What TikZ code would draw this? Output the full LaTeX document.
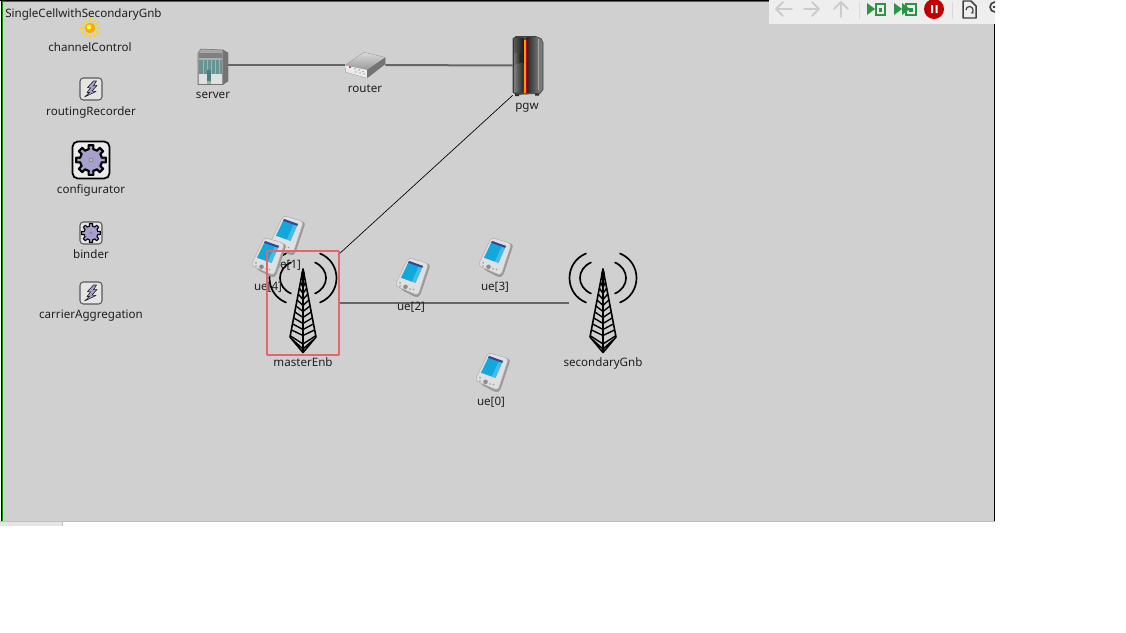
\documentclass[tikz,border=0pt]{standalone}
\usepackage{fontspec}
\setmainfont{Noto Sans}
\usetikzlibrary{arrows.meta}
\definecolor{canvas}{HTML}{D0D0D0}
\definecolor{barbg}{HTML}{EEEEEE}
\definecolor{linkgrey}{HTML}{666666}
\definecolor{selred}{HTML}{E8646A}
\definecolor{gearblue}{HTML}{A6A0CC}
\definecolor{okgreen}{HTML}{2E9444}
\definecolor{navgrey}{HTML}{CCCCCC}
\definecolor{pdascreen}{HTML}{12A8DC}
\tikzset{
  lbl/.style={font=\fontsize{8.7}{10}\selectfont, anchor=base, inner sep=0pt, text=black!88},
  wire/.style={draw=linkgrey, line width=1.5pt},
  thinwire/.style={draw=black, line width=0.5pt},
  pdaicon/.pic={
    \fill[black!40, rounded corners=2] (-2,-19) -- (18.5,-12.5) -- (8,19) -- (4,20.5) -- (-12,12) -- cycle;
    \fill[black!12, draw=black!30, line width=.4pt, rounded corners=2.5] (-3.7,-19.5) -- (16.5,-13.5) -- (6,18.5) -- (-17,8.5) -- cycle;
    \fill[pdascreen] (-3,-16) -- (11,-11) -- (3.5,6) -- (-11,.7) -- cycle;
    \fill[blue!40!black!75] (-3,-16) -- (11,-11) -- (10.2,-9.2) -- (-3.8,-14.2) -- cycle;
    \fill[white, opacity=.22] (6.5,-10) -- (10.2,-9.2) -- (3.5,6) -- (-.2,4.7) -- cycle;
    \fill[black!45] (-6.5,9.8) circle (2.3);
    \fill[black!40] (-12,5.8) circle (.95) (-12,9) circle (.95) (-2,12) circle (.95) (1.5,12.5) circle (.95) (-7,13.7) circle (.95);
  },
  towericon/.pic={
    \draw[line width=1.25pt, line cap=round] (17,-24.5) .. controls (39,-15.5) and (39,15.5) .. (17,24.5);
    \draw[line width=1.25pt, line cap=round] (-17,-24.5) .. controls (-39,-15.5) and (-39,15.5) .. (-17,24.5);
    \draw[line width=1.25pt, line cap=round] (12,-15.5) .. controls (26.7,-9) and (26.7,9) .. (12,15.5);
    \draw[line width=1.25pt, line cap=round] (-12,-15.5) .. controls (-26.7,-9) and (-26.7,9) .. (-12,15.5);
    \fill (0,-10) -- (2,-4) -- (-2,-4) -- cycle;
    \draw[line width=1.2pt, line join=round] (0,-9) -- (-13,59) -- (0,74.5) -- (13,59) -- cycle;
    \draw[line width=1.1pt] (0,-8) -- (0,75);
    \foreach \yy/\hw in {4/2.6,10/3.7,16/4.8,22/5.9,28/7,34/8.1,40/9.2,46/10.3,52/11.4}{
      \draw[line width=1.05pt] (-\hw,\yy) -- (0,\yy+5.5) -- (\hw,\yy);
    }
    \draw[line width=1.05pt] (-12.4,58) -- (0,66) -- (12.4,58);
    \draw[line width=1.05pt] (-10,62) -- (0,71) -- (10,62);
  },
  gearicon/.pic={
    \fill[gearblue, draw=black, line width=1.6pt, line join=round]
      (-12:.74) \foreach \a in {0,45,...,315}{
        -- (\a-12:.74) -- (\a-9:1) -- (\a+9:1) -- (\a+12:.74) } -- cycle;
    \fill[black!45] (0,0) circle (.16);
    \fill[black!15] (0,0) circle (.08);
  },
  smallgearicon/.pic={
    \fill[gearblue, draw=black, line width=.8pt, line join=round]
      (-12:.74) \foreach \a in {0,45,...,315}{
        -- (\a-12:.74) -- (\a-9:1) -- (\a+9:1) -- (\a+12:.74) } -- cycle;
    \fill[black!45] (0,0) circle (.16);
  },
  bolticon/.pic={
    \fill[gearblue, draw=black!85, line width=.45pt, line join=round]
      (2.5,-8) -- (-3.5,-1.5) -- (-.5,-1) -- (-4,3.5) -- (-1.5,3.5) -- (-6.5,8) -- (5,2.5) -- (1,2) -- (6,-3.5) -- (2.5,-3.2) -- (5.5,-8) -- cycle;
  },
  sunicon/.pic={
    \foreach \a in {0,30,...,330}{
      \draw[yellow!75!orange, line width=1pt] (\a:6.5) -- (\a:10);
    }
    \fill[orange!65!yellow] (0,0) circle (5.3);
    \fill[yellow!70!white] (-1,-1) circle (2.4);
  },
  servericon/.pic={
    \fill[black!55, draw=black!60, line width=.3pt] (10,-16) -- (15,-13) -- (15,15) -- (10,18.5) -- cycle;
    \fill[black!35, draw=black!55, line width=.4pt] (-15,-13) -- (-12,-17) -- (10,-16) -- (10,18.5) -- (-15,18.5) -- cycle;
    \fill[black!50] (-14,-13) rectangle (9,-8);
    \fill[black!32] (-14,-8) rectangle (9,-6.5);
    \fill[teal!40!gray!85] (-14,-6.5) rectangle (9,10);
    \foreach \xx in {-10,-6,-2,2,6}{ \draw[teal!55!black!40, line width=.5pt] (\xx,-6.5) -- (\xx,10); }
    \fill[black!12] (-14,8) rectangle (-6,17.5);
    \fill[black!12] (-2,8) rectangle (9,17.5);
    \fill[teal!55!black!70] (-6,4) rectangle (-2,15);
    \fill[black!55] (-14,17.5) rectangle (10,18.5);
  },
  routericon/.pic={
    \fill[black!30, draw=black!50, line width=.4pt, line join=round] (-20,.5) -- (-1,-12.5) -- (20,-7.5) -- (20,-1) -- (2,13) -- (-19,7) -- cycle;
    \shade[top color=black!15, bottom color=black!40] (-20,.5) -- (-1,-12.5) -- (20,-7.5) -- (2,5) -- cycle;
    \fill[black!8] (-20,.5) -- (2,5) -- (2,13) -- (-19,7) -- cycle;
    \fill[black!55] (2,5) -- (20,-7.5) -- (20,-1) -- (2,13) -- cycle;
    \fill[red!85!black] (-15,2.2) circle (1);
    \foreach \xx/\yy in {-10/4,-6/5,-2/6.5,-9/7,-5/8,-1/9}{\fill[black!60] (\xx,\yy) circle (.7);}
  },
  pgwicon/.pic={
    \fill[black!85] (-13,28) rectangle (-9,30.5) (7,27.5) rectangle (11,30);
    \shade[left color=black!80, right color=black!50, draw=black!75, line width=.4pt, line join=round] (-15,-27) -- (-12,-29) -- (8,-29) -- (13,-27) -- (15,-23) -- (15,24) -- (12,28) -- (-12,29) -- (-15,27) -- cycle;
    \shade[left color=black!65, right color=black!90] (-14,-27) rectangle (-4.5,-2);
    \shade[left color=black!55, right color=black!90] (-14,-12) rectangle (-7,-2);
    \shade[left color=black!50, right color=black!85] (-14,-1) -- (-4.5,-3) -- (-4.5,27) -- (-14,27) -- cycle;
    \shade[left color=black!85, right color=black!55] (-1.5,-28) rectangle (10,27);
    \fill[black!35] (9.5,-27) rectangle (10.5,24);
    \fill[red!75!black] (-4.5,-26) rectangle (-1.5,27);
    \fill[orange!80!yellow] (-3.6,-26) rectangle (-2.4,27);
  },
  gobtn/.style={fill=okgreen, draw=none},
}
\begin{document}
\begin{tikzpicture}[x=0.75pt,y=-0.75pt]
\useasboundingbox (0,0) rectangle (1126,632);
\fill[white] (0,0) rectangle (1126,632);
% canvas
\fill[canvas] (2,1) rectangle (995,521);
\fill[black] (1,0) rectangle (2,521);
\fill[black] (0,0) rectangle (770,1);
\fill[green!60!black] (2,1) rectangle (3,521);
\fill[green!60!black] (2,1) rectangle (770,2);
\fill[black] (994,24) rectangle (995,521);
\fill[black!25] (0,521) rectangle (995,522);
\fill[black!10] (0,522) rectangle (62,526);
\fill[black!25] (62,522) rectangle (63,526);
% toolbar
\fill[barbg] (769,0) rectangle (995,24);
\begin{scope}[navgrey, line width=1.4pt, line cap=round, line join=round]
  \draw (792,9) -- (776,9) (783,2) -- (776,9) -- (783,16);
  \draw (804,9) -- (819,9) (812,2) -- (819,9) -- (812,16);
  \draw (841,17) -- (841,2) (834,9) -- (841,2) -- (848,9);
\end{scope}
\draw[black!15, line width=.75pt] (859.5,2) -- (859.5,19) (952.5,2) -- (952.5,19);
\fill[gobtn] (867,3) -- (875,9) -- (867,15) -- cycle;
\draw[okgreen, line width=1.1pt] (876,4) rectangle (885,15);
\fill[okgreen] (879,7.5) rectangle (882,11.5);
\fill[gobtn] (894,3) -- (902,9) -- (894,15) -- cycle;
\fill[gobtn] (902,3) -- (910,9) -- (902,15) -- cycle;
\draw[okgreen, line width=1.1pt] (906,4) rectangle (916,15);
\fill[okgreen] (909,7.5) rectangle (913,11.5);
\fill[red!75!black] (934,9) circle (10);
\fill[white] (931,5) rectangle (933,13) (935.5,5) rectangle (937.5,13);
\draw[black!75, line width=1.1pt, line join=round] (963,1) -- (971,1) -- (976,6) -- (976,18) -- (963,18) -- cycle;
\draw[black!75, line width=.9pt, -{Stealth[length=2.5pt]}] (966,10) arc[start angle=180, end angle=430, radius=3.5];
\begin{scope}
  \clip (985,0) rectangle (995,20);
  \draw[black!75, line width=1.2pt] (995,7) circle (5);
  \draw[black!75, line width=1pt] (992.5,7) -- (997,7);
\end{scope}
% title
\pic at (90,28) {sunicon};
\node[lbl, anchor=base west] (title) at (5,17) {SingleCellwithSecondaryGnb};
% submodules on the left
\node[lbl] (channelControlL) at (90,51.5) {channelControl};
\filldraw[fill=black!10, draw=black!65, line width=.8pt, rounded corners=2.5] (80,78) rectangle (102,100);
\pic at (91,89) {bolticon};
\node[lbl] (routingRecorderL) at (91,115) {routingRecorder};
\filldraw[fill=black!8, draw=black, line width=1.3pt, rounded corners=4] (72.5,141.5) rectangle (109.5,178.5);
\pic[scale=15] at (91,160) {gearicon};
\node[lbl] (configuratorL) at (91,193.5) {configurator};
\filldraw[fill=black!10, draw=black!65, line width=.8pt, rounded corners=2.5] (80,222) rectangle (102,244);
\pic[scale=9.5] at (91,233) {smallgearicon};
\node[lbl] (binderL) at (91,258.5) {binder};
\filldraw[fill=black!10, draw=black!65, line width=.8pt, rounded corners=2.5] (80,282) rectangle (102,304);
\pic at (91,293) {bolticon};
\node[lbl] (carrierL) at (91,318.5) {carrierAggregation};
% network nodes
\node[inner sep=0pt, minimum width=22.5pt, minimum height=22.5pt] (server) at (213,65) {};
\node[inner sep=0pt, minimum width=30pt, minimum height=22.5pt] (router) at (365,65) {};
\node[inner sep=0pt, minimum width=22.5pt, minimum height=44.25pt] (pgw) at (528,65.5) {};
\node[inner sep=0pt, minimum width=54pt, minimum height=78pt] (masterEnb) at (303,303) {};
\node[inner sep=0pt, minimum width=51pt, minimum height=78pt] (secondaryGnb) at (603,303) {};
\coordinate (masterTap) at (338,255);
\draw[wire] (server.east) -- (router.west);
\draw[wire] (router.east) -- (pgw.west);
\draw[thinwire] (masterTap) -- (pgw.south west);
\draw[wire] (masterEnb.east) -- (secondaryGnb.west);
\pic at (213,66) {servericon};
\node[lbl] (serverL) at (213,98.5) {server};
\pic at (365,65) {routericon};
\node[lbl] (routerL) at (365,92) {router};
\pic at (528,65.5) {pgwicon};
\node[lbl] (pgwL) at (527,109) {pgw};
\pic at (303,278) {towericon};
\node[lbl] (masterEnbL) at (303,366.5) {masterEnb};
\pic at (603,278) {towericon};
\node[lbl] (secondaryGnbL) at (603,366.5) {secondaryGnb};
% UEs
\pic at (412,277) {pdaicon};
\node[lbl] (ue2L) at (411,310.5) {ue[2]};
\pic at (495,257) {pdaicon};
\node[lbl] (ue3L) at (495,290.5) {ue[3]};
\pic at (492,372) {pdaicon};
\node[lbl] (ue0L) at (491,405.5) {ue[0]};
\pic at (287,235) {pdaicon};
\node[lbl] (ue1L) at (287,268.5) {ue[1]};
\pic at (268,257) {pdaicon};
\node[lbl] (ue4L) at (268,290.5) {ue[4]};
% selection
\draw[selred, line width=1.3pt, rounded corners=.5] (267,251) rectangle (339,355);
\end{tikzpicture}
\end{document}
